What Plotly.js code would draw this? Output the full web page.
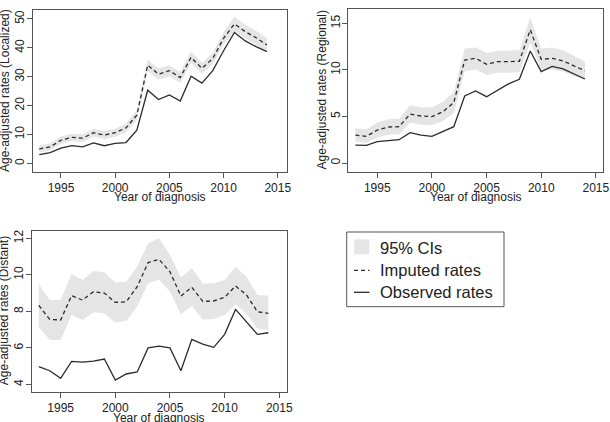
<!DOCTYPE html>
<html>
<head>
<meta charset="utf-8">
<script src="https://cdn.plot.ly/plotly-3.0.1.min.js"></script>
<style>
  html, body { margin: 0; padding: 0; background: #fff; }
  #chart { width: 610px; height: 422px; }
</style>
</head>
<body>
<div id="chart"></div>
<script>
// Years of diagnosis
const years = [1993, 1994, 1995, 1996, 1997, 1998, 1999, 2000, 2001, 2002, 2003,
               2004, 2005, 2006, 2007, 2008, 2009, 2010, 2011, 2012, 2013, 2014];

// Localized stage
const locObserved = [3.0, 3.7, 5.3, 6.1, 5.7, 7.1, 6.1, 6.9, 7.2, 11.5, 25.3,
                     22.1, 23.7, 21.6, 30.2, 27.8, 32.1, 39.0, 45.3, 42.4, 40.4, 38.7];
const locImputed  = [5.0, 5.7, 8.0, 9.0, 8.7, 10.6, 9.8, 10.6, 12.3, 16.7, 34.0,
                     30.9, 32.1, 29.7, 36.7, 32.9, 36.3, 43.3, 48.3, 45.6, 43.5, 41.0];
const locUpper    = [6.2, 6.9, 9.3, 10.3, 10.0, 12.0, 11.2, 12.0, 13.8, 18.4, 36.0,
                     32.8, 34.0, 31.6, 38.7, 34.8, 38.3, 45.5, 50.8, 48.0, 45.9, 43.4];
const locLower    = [3.8, 4.5, 6.7, 7.7, 7.4, 9.2, 8.4, 9.2, 10.8, 15.0, 32.0,
                     29.0, 30.2, 27.8, 34.7, 31.0, 34.3, 41.1, 45.8, 43.2, 41.1, 38.6];

// Regional stage
const regObserved = [1.93, 1.9, 2.3, 2.36, 2.5, 3.26, 3.0, 2.86, 3.37, 3.9, 7.2,
                     7.73, 7.12, 7.77, 8.49, 8.99, 12.03, 9.81, 10.38, 10.1, 9.52, 9.02];
const regImputed  = [3.0, 2.86, 3.54, 3.87, 3.9, 5.26, 5.05, 4.98, 5.51, 6.48, 11.06,
                     11.24, 10.6, 10.88, 10.88, 10.92, 14.29, 11.13, 11.24, 10.96, 10.42, 9.92];
const regUpper    = [3.72, 3.6, 4.35, 4.7, 4.75, 6.2, 6.0, 5.95, 6.55, 7.6, 12.3,
                     12.4, 11.8, 12.05, 12.05, 12.1, 15.6, 12.3, 12.4, 12.1, 11.5, 10.9];
const regLower    = [2.3, 2.15, 2.75, 3.05, 3.05, 4.35, 4.1, 4.05, 4.5, 5.35, 9.85,
                     10.05, 9.45, 9.7, 9.7, 9.75, 12.95, 9.95, 10.05, 9.8, 9.35, 8.95];

// Distant stage
const disObserved = [4.97, 4.75, 4.33, 5.26, 5.22, 5.28, 5.39, 4.24, 4.57, 4.68, 6.0,
                     6.1, 6.0, 4.75, 6.47, 6.21, 6.03, 6.74, 8.11, 7.43, 6.74, 6.83];
const disImputed  = [8.33, 7.56, 7.53, 8.86, 8.62, 9.08, 9.0, 8.49, 8.53, 9.35, 10.67,
                     10.85, 10.17, 8.84, 9.32, 8.55, 8.57, 8.77, 9.39, 8.9, 7.98, 7.89];
const disUpper    = [9.5, 8.62, 8.62, 10.05, 9.72, 10.21, 10.14, 9.57, 9.63, 10.45, 11.73,
                     12.0, 11.09, 9.86, 10.36, 9.53, 9.53, 9.72, 10.45, 9.9, 8.9, 8.86];
const disLower    = [7.16, 6.43, 6.43, 7.8, 7.53, 7.95, 7.89, 7.38, 7.49, 8.26, 9.53,
                     9.75, 9.08, 7.84, 8.29, 7.56, 7.58, 7.8, 8.38, 7.89, 7.07, 6.98];

// Axis and legend labels
const xTitle = 'Year of diagnosis';
const yTitles = ['Age-adjusted rates (Localized)', 'Age-adjusted rates (Regional)', 'Age-adjusted rates (Distant)'];
const legendLabels = ['95% CIs', 'Imputed rates', 'Observed rates'];

const W = 610, H = 422;
const px = v => v / W;          // pixel x -> paper
const py = v => 1 - v / H;      // pixel y -> paper

const bandColor = '#e5e5e5';
const lineColor = '#2b2b2b';
const frameColor = '#555555';
const font = 'Arial, "Liberation Sans", sans-serif';

function panelTraces(xa, ya, lower, upper, imputed, observed) {
  return [
    { x: years, y: lower, xaxis: xa, yaxis: ya, type: 'scatter', mode: 'lines',
      line: { width: 0, color: bandColor }, hoverinfo: 'skip', showlegend: false },
    { x: years, y: upper, xaxis: xa, yaxis: ya, type: 'scatter', mode: 'lines',
      fill: 'tonexty', fillcolor: bandColor, line: { width: 0, color: bandColor },
      name: legendLabels[0], showlegend: false },
    { x: years, y: imputed, xaxis: xa, yaxis: ya, type: 'scatter', mode: 'lines',
      line: { color: lineColor, width: 1.3, dash: '4px,3px' },
      name: legendLabels[1], showlegend: false },
    { x: years, y: observed, xaxis: xa, yaxis: ya, type: 'scatter', mode: 'lines',
      line: { color: lineColor, width: 1.3 },
      name: legendLabels[2], showlegend: false }
  ];
}

const data = [
  ...panelTraces('x', 'y', locLower, locUpper, locImputed, locObserved),
  ...panelTraces('x2', 'y2', regLower, regUpper, regImputed, regObserved),
  ...panelTraces('x3', 'y3', disLower, disUpper, disImputed, disObserved)
];

function xAxis(domain, range, anchor) {
  return {
    domain: domain, range: range, anchor: anchor,
    tick0: 1995, dtick: 5, ticks: 'outside', ticklen: 5, tickcolor: frameColor,
    showline: true, linecolor: frameColor, linewidth: 1, mirror: true,
    showgrid: false, zeroline: false,
    tickfont: { family: font, size: 12, color: '#222' }
  };
}
function yAxis(domain, range, anchor, dtick) {
  return {
    domain: domain, range: range, anchor: anchor,
    tick0: 0, dtick: dtick, ticks: 'outside', ticklen: 5, tickcolor: frameColor,
    tickangle: -90, ticklabelstandoff: -2,
    showline: true, linecolor: frameColor, linewidth: 1, mirror: true,
    showgrid: false, zeroline: false,
    tickfont: { family: font, size: 12, color: '#222' }
  };
}

// Panel frames in pixels: [left, right, top, bottom]
const P1 = [33, 287, 10, 172];
const P2 = [348.3, 603.3, 9.3, 171.7];
const P3 = [31.7, 286.7, 230.7, 391.7];

const layout = {
  width: W, height: H,
  margin: { l: 0, r: 0, t: 0, b: 0 },
  paper_bgcolor: '#fff', plot_bgcolor: '#fff',
  showlegend: false,
  xaxis:  xAxis([px(P1[0]), px(P1[1])], [1992.42, 2015.85], 'y'),
  yaxis:  yAxis([py(P1[3]), py(P1[2])], [-3.0, 53.1], 'x', 10),
  xaxis2: xAxis([px(P2[0]), px(P2[1])], [1992.35, 2015.68], 'y2'),
  yaxis2: yAxis([py(P2[3]), py(P2[2])], [-0.93, 16.5], 'x2', 5),
  xaxis3: xAxis([px(P3[0]), px(P3[1])], [1992.35, 2015.68], 'y3'),
  yaxis3: yAxis([py(P3[3]), py(P3[2])], [3.6, 12.42], 'x3', 2),
  annotations: [],
  shapes: []
};

const textFont = { family: font, size: 12, color: '#222' };
[[P1, 197], [P2, 197], [P3, 418]].forEach(([p, yc]) => {
  layout.annotations.push({
    xref: 'paper', yref: 'paper', x: px((p[0] + p[1]) / 2), y: py(yc),
    xanchor: 'center', yanchor: 'middle', showarrow: false,
    text: xTitle, font: textFont
  });
});
// Vertical axis titles, centred on each panel
[[P1, 0, 5], [P2, 1, 321], [P3, 2, 4]].forEach(([p, i, xc]) => {
  layout.annotations.push({
    xref: 'paper', yref: 'paper', x: px(xc), y: py((p[2] + p[3]) / 2),
    xanchor: 'center', yanchor: 'middle', showarrow: false, textangle: -90,
    text: yTitles[i], font: textFont
  });
});

// Legend box
const legFont = { family: font, size: 16.5, color: '#222' };
layout.shapes.push({
  type: 'rect', xref: 'paper', yref: 'paper',
  x0: px(346.7), x1: px(504), y0: py(306.7), y1: py(232),
  line: { color: frameColor, width: 1 }, fillcolor: 'rgba(0,0,0,0)'
});
layout.shapes.push({
  type: 'rect', xref: 'paper', yref: 'paper',
  x0: px(354.3), x1: px(369.3), y0: py(254.3), y1: py(239.3),
  line: { width: 0 }, fillcolor: bandColor
});
layout.shapes.push({
  type: 'line', xref: 'paper', yref: 'paper',
  x0: px(354), x1: px(369.5), y0: py(270.3), y1: py(270.3),
  line: { color: lineColor, width: 1.3, dash: '4px,3px' }
});
layout.shapes.push({
  type: 'line', xref: 'paper', yref: 'paper',
  x0: px(354), x1: px(369.5), y0: py(292.3), y1: py(292.3),
  line: { color: lineColor, width: 1.3 }
});
[247.7, 270, 292].forEach((yc, i) => {
  layout.annotations.push({
    xref: 'paper', yref: 'paper', x: px(378), y: py(yc),
    xanchor: 'left', yanchor: 'middle', showarrow: false,
    text: legendLabels[i], font: legFont
  });
});

Plotly.newPlot('chart', data, layout, { displayModeBar: false, staticPlot: true });
</script>
</body>
</html>
